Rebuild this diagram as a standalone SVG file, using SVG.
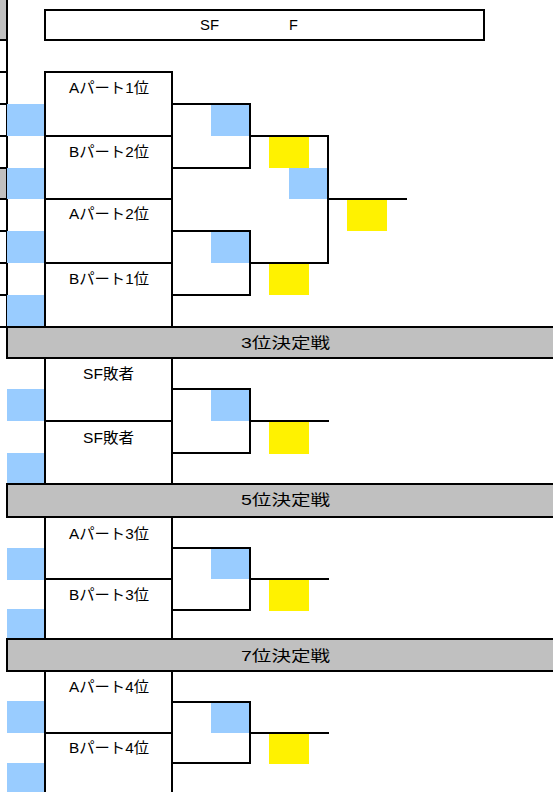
<svg xmlns="http://www.w3.org/2000/svg" width="553" height="792" viewBox="0 0 553 792">
<style>
.bl{fill:#99CCFF}
.yl{fill:#FFF200}
.gr{fill:#C0C0C0}
.ln{fill:none;stroke:#000;stroke-width:2;stroke-linecap:square}
.t{font-family:"Liberation Sans","Noto Sans CJK JP",sans-serif;font-size:14.5px;fill:#000}
</style>
<rect width="553" height="792" fill="#fff"/>
<!-- left margin -->
<g id="left-margin">
<rect class="gr" x="0" y="0" width="6" height="40"/>
<rect class="gr" x="0" y="168" width="6" height="31"/>
<path class="ln" d="M7,0V327 M0,40H6 M0,72H6 M0,104H6 M0,136H6 M0,168H6 M0,199H6 M0,231H6 M0,263H6 M0,295H6"/>
</g>
<!-- header -->
<g id="header">
<rect class="ln" x="45" y="10" width="439" height="30"/>
<text class="t" x="200" y="30" textLength="19" lengthAdjust="spacingAndGlyphs">SF</text>
<text class="t" x="289" y="30">F</text>
</g>
<!-- seed cells -->
<g id="seed-cells">
<rect class="bl" x="7" y="104" width="37" height="32"/>
<rect class="bl" x="7" y="168" width="37" height="31"/>
<rect class="bl" x="7" y="231" width="37" height="32"/>
<rect class="bl" x="7" y="295" width="37" height="32"/>
<rect class="bl" x="7" y="389" width="37" height="32"/>
<rect class="bl" x="7" y="453" width="37" height="31"/>
<rect class="bl" x="7" y="548" width="37" height="32"/>
<rect class="bl" x="7" y="609" width="37" height="30"/>
<rect class="bl" x="7" y="701" width="37" height="32"/>
<rect class="bl" x="7" y="763" width="37" height="29"/>
</g>
<!-- score cells -->
<g id="score-cells">
<rect class="bl" x="211" y="104" width="39" height="32"/>
<rect class="bl" x="211" y="231" width="39" height="32"/>
<rect class="bl" x="289" y="168" width="39" height="31"/>
<rect class="yl" x="269" y="136" width="40" height="32"/>
<rect class="yl" x="269" y="263" width="40" height="32"/>
<rect class="yl" x="347" y="199" width="40" height="32"/>
<rect class="bl" x="211" y="389" width="39" height="32"/>
<rect class="yl" x="269" y="421" width="40" height="33"/>
<rect class="bl" x="211" y="548" width="39" height="31"/>
<rect class="yl" x="269" y="580" width="40" height="31"/>
<rect class="bl" x="211" y="702" width="39" height="31"/>
<rect class="yl" x="269" y="733" width="40" height="31"/>
</g>
<!-- banners -->
<g id="banner-3">
<rect class="gr" x="7" y="327" width="546" height="31"/>
<path class="ln" d="M0,327H553 M7,327V358 M7,358H553"/>
<text class="t" x="241" y="348" textLength="89" lengthAdjust="spacingAndGlyphs">3位決定戦</text>
</g>
<g id="banner-5">
<rect class="gr" x="7" y="484" width="546" height="33"/>
<path class="ln" d="M7,484H553 M7,484V517 M7,517H553"/>
<text class="t" x="241" y="505" textLength="89" lengthAdjust="spacingAndGlyphs">5位決定戦</text>
</g>
<g id="banner-7">
<rect class="gr" x="7" y="639" width="546" height="32"/>
<path class="ln" d="M7,639H553 M7,639V671 M7,671H553"/>
<text class="t" x="241" y="661" textLength="89" lengthAdjust="spacingAndGlyphs">7位決定戦</text>
</g>
<!-- team nodes -->
<g id="team-a1">
<rect class="ln" x="45" y="72" width="127" height="64"/>
<text class="t" x="69" y="93" textLength="80" lengthAdjust="spacingAndGlyphs">Aパート1位</text>
</g>
<g id="team-b2">
<rect class="ln" x="45" y="136" width="127" height="63"/>
<text class="t" x="69" y="157" textLength="80" lengthAdjust="spacingAndGlyphs">Bパート2位</text>
</g>
<g id="team-a2">
<rect class="ln" x="45" y="199" width="127" height="64"/>
<text class="t" x="69" y="219" textLength="80" lengthAdjust="spacingAndGlyphs">Aパート2位</text>
</g>
<g id="team-b1">
<rect class="ln" x="45" y="263" width="127" height="64"/>
<text class="t" x="69" y="284" textLength="80" lengthAdjust="spacingAndGlyphs">Bパート1位</text>
</g>
<g id="sf-loser-1">
<rect class="ln" x="45" y="358" width="127" height="63"/>
<text class="t" x="83" y="379" textLength="51" lengthAdjust="spacingAndGlyphs">SF敗者</text>
</g>
<g id="sf-loser-2">
<rect class="ln" x="45" y="421" width="127" height="63"/>
<text class="t" x="83" y="443" textLength="51" lengthAdjust="spacingAndGlyphs">SF敗者</text>
</g>
<g id="team-a3">
<rect class="ln" x="45" y="517" width="127" height="62"/>
<text class="t" x="69" y="539" textLength="80" lengthAdjust="spacingAndGlyphs">Aパート3位</text>
</g>
<g id="team-b3">
<rect class="ln" x="45" y="579" width="127" height="60"/>
<text class="t" x="69" y="600" textLength="80" lengthAdjust="spacingAndGlyphs">Bパート3位</text>
</g>
<g id="team-a4">
<rect class="ln" x="45" y="671" width="127" height="62"/>
<text class="t" x="69" y="692" textLength="80" lengthAdjust="spacingAndGlyphs">Aパート4位</text>
</g>
<g id="team-b4">
<rect class="ln" x="45" y="733" width="127" height="70"/>
<text class="t" x="69" y="753" textLength="80" lengthAdjust="spacingAndGlyphs">Bパート4位</text>
</g>
<!-- connectors -->
<g id="connectors">
<path class="ln" d="M172,104H250V168H172"/>
<path class="ln" d="M172,231H250V295H172"/>
<path class="ln" d="M250,136H328V263H250"/>
<path class="ln" d="M328,199H406"/>
<path class="ln" d="M172,389H250V453H172"/>
<path class="ln" d="M250,421H328"/>
<path class="ln" d="M172,548H250V610H172"/>
<path class="ln" d="M250,579H328"/>
<path class="ln" d="M172,702H250V763H172"/>
<path class="ln" d="M250,733H328"/>
</g>
</svg>
